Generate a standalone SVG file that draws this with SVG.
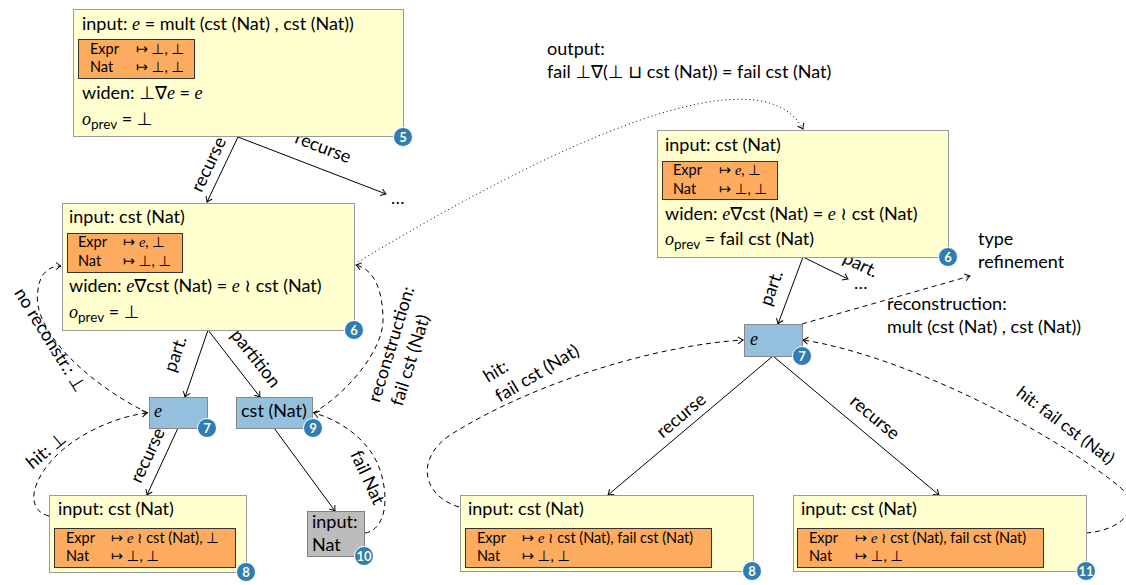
<svg xmlns="http://www.w3.org/2000/svg" width="1126" height="585" viewBox="0 0 1126 585">
<style>
.t{font-family:Lato,"DejaVu Sans",sans-serif;font-size:18px;fill:#000}
.s{font-size:14.5px}
.m{font-family:"Liberation Serif",serif;font-style:italic}
.sub{font-size:13.5px}
.box{fill:#ffffd0;stroke:#9a9a9a;stroke-width:1}
.tab{fill:#fdab5e;stroke:#333;stroke-width:1}
.blue{fill:#95c0dd;stroke:#888;stroke-width:1}
.gray{fill:#bcbcbc;stroke:#808080;stroke-width:1}
.badge{fill:#2e7cb8;stroke:#fff;stroke-width:1}
.bn{font-family:Lato,"DejaVu Sans",sans-serif;font-weight:bold;font-size:13px;fill:#fffbd0;text-anchor:middle}
.e{fill:none;stroke:#000;stroke-width:1}
.d{stroke-dasharray:5 4}
.dot{stroke-dasharray:1 3}
.c{text-anchor:middle}
</style>
<defs>
<marker id="ar" markerUnits="userSpaceOnUse" markerWidth="12" markerHeight="12" viewBox="-6 -6 12 12" refX="0" refY="0" orient="auto">
<path d="M-5,-3.5 Q-1.5,-0.8 0,0 Q-1.5,0.8 -5,3.5" fill="none" stroke="#000" stroke-width="1"/>
</marker>
</defs>

<g id="connectors">
<path class="e" d="M238,137 L207,202" marker-end="url(#ar)"/>
<path class="e" d="M238,137 L386,194" marker-end="url(#ar)"/>
<path class="e" d="M208,330 L185,397" marker-end="url(#ar)"/>
<path class="e" d="M208,330 L260,397" marker-end="url(#ar)"/>
<path class="e" d="M178,428 L147,495" marker-end="url(#ar)"/>
<path class="e" d="M274,428 L335,511" marker-end="url(#ar)"/>
<path class="e d" d="M148,413 C90,385 30,330 38,290 C40,272 50,266 61,266" marker-end="url(#ar)"/>
<path class="e d" d="M49,516 C25,510 30,480 60,452 C85,430 120,416 147,413" marker-end="url(#ar)"/>
<path class="e d" d="M313,413 C345,395 385,350 383,317 C382,290 375,270 356,265" marker-end="url(#ar)"/>
<path class="e d" d="M365,533 C385,530 390,500 380,470 C370,440 340,420 314,413" marker-end="url(#ar)"/>
<path class="e dot" d="M358,262 C560,140 760,50 803,129" marker-end="url(#ar)"/>
<path class="e" d="M803,257 L778,324" marker-end="url(#ar)"/>
<path class="e" d="M803,257 L848,279" marker-end="url(#ar)"/>
<path class="e d" d="M802,324 L970,276" marker-end="url(#ar)"/>
<path class="e" d="M773,356 L608,495" marker-end="url(#ar)"/>
<path class="e" d="M773,356 L939,495" marker-end="url(#ar)"/>
<path class="e d" d="M459,507 C420,495 415,455 455,432 C540,380 660,345 743,340" marker-end="url(#ar)"/>
<path class="e d" d="M1086,533 C1125,530 1145,505 1115,483 C1040,425 900,355 803,340" marker-end="url(#ar)"/>

<text class="t c" transform="translate(214,167) rotate(-64.5)">recurse</text>
<text class="t c" transform="translate(321,153) rotate(21)">recurse</text>
<text class="t" x="391" y="204">…</text>
<text class="t c" transform="translate(181,356) rotate(-71)">part.</text>
<text class="t c" transform="translate(251,362) rotate(52)">partition</text>
<text class="t c" transform="translate(153,458) rotate(-65)">recurse</text>
<text class="t c" transform="translate(45,343) rotate(58)">no reconstr.: ⊥</text>
<text class="t c" transform="translate(50,455) rotate(-40)">hit: ⊥</text>
<text class="t c" transform="translate(397,346) rotate(-73)">reconstruction:</text>
<text class="t c" transform="translate(416,362) rotate(-73)">fail cst (Nat)</text>
<text class="t c" transform="translate(362,480) rotate(65)">fail Nat</text>

<text class="t" x="547" y="55">output:</text>
<text class="t" x="547" y="78">fail ⊥∇(⊥ ⊔ cst (Nat)) = fail cst (Nat)</text>
<text class="t c" transform="translate(777,290) rotate(-70)">part.</text>
<text class="t c" transform="translate(858,270) rotate(26)">part.</text>
<text class="t" x="854" y="289">…</text>
<text class="t" x="978" y="245">type</text>
<text class="t" x="978" y="268">refinement</text>
<text class="t" x="887" y="310">reconstruction:</text>
<text class="t" x="887" y="333">mult (cst (Nat) , cst (Nat))</text>
<text class="t c" transform="translate(685,420) rotate(-40)">recurse</text>
<text class="t c" transform="translate(871,422) rotate(40)">recurse</text>
<text class="t" transform="translate(488,383) rotate(-31)"><tspan x="0" y="0">hit:</tspan><tspan x="0" y="23">fail cst (Nat)</tspan></text>
<text class="t c" style="font-size:17px" transform="translate(1062,430) rotate(37)">hit: fail cst (Nat)</text>
</g>

<g id="n5">
<rect class="box" x="73.5" y="9.5" width="330" height="127"/>
<text class="t" x="82" y="30">input: <tspan class="m">e</tspan> = mult (cst (Nat) , cst (Nat))</text>
<rect class="tab" x="78.5" y="39.5" width="116" height="39"/>
<text class="t s" x="90" y="54">Expr</text><text class="t s" x="136" y="54">↦ ⊥, ⊥</text>
<text class="t s" x="90" y="72">Nat</text><text class="t s" x="136" y="72">↦ ⊥, ⊥</text>
<text class="t" x="82" y="99">widen: ⊥∇<tspan class="m">e</tspan> = <tspan class="m">e</tspan></text>
<text class="t" x="82" y="125"><tspan class="m">o</tspan><tspan class="sub" dy="4">prev</tspan><tspan dy="-4"> = ⊥</tspan></text>
<circle class="badge" cx="403" cy="137" r="9.5"/><text class="bn" x="403" y="141.5">5</text>
</g>

<g id="n6a">
<rect class="box" x="62.5" y="203.5" width="292" height="127"/>
<text class="t" x="69" y="223">input: cst (Nat)</text>
<rect class="tab" x="67.5" y="233.5" width="115" height="39"/>
<text class="t s" x="78" y="247">Expr</text><text class="t s" x="123" y="247">↦ <tspan class="m">e</tspan>, ⊥</text>
<text class="t s" x="78" y="266">Nat</text><text class="t s" x="123" y="266">↦ ⊥, ⊥</text>
<text class="t" x="69" y="292">widen: <tspan class="m">e</tspan>∇cst (Nat) = <tspan class="m">e</tspan> ≀ cst (Nat)</text>
<text class="t" x="69" y="318"><tspan class="m">o</tspan><tspan class="sub" dy="4">prev</tspan><tspan dy="-4"> = ⊥</tspan></text>
<circle class="badge" cx="354" cy="330" r="9.5"/><text class="bn" x="354" y="334.5">6</text>
</g>

<g id="n7a">
<rect class="blue" x="149.5" y="397.5" width="58" height="31"/>
<text class="t m" x="154" y="417">e</text>
<circle class="badge" cx="207" cy="428" r="9.5"/><text class="bn" x="207" y="432.5">7</text>
</g>

<g id="n9">
<rect class="blue" x="236.5" y="397.5" width="76" height="31"/>
<text class="t" x="241" y="417">cst (Nat)</text>
<circle class="badge" cx="313" cy="428" r="9.5"/><text class="bn" x="313" y="432.5">9</text>
</g>

<g id="n8a">
<rect class="box" x="49.5" y="495.5" width="197" height="77"/>
<text class="t" x="58" y="515">input: cst (Nat)</text>
<rect class="tab" x="54.5" y="528.5" width="181" height="39"/>
<text class="t s" x="66" y="543">Expr</text><text class="t s" x="111" y="543">↦ <tspan class="m">e</tspan> ≀ cst (Nat), ⊥</text>
<text class="t s" x="66" y="561">Nat</text><text class="t s" x="111" y="561">↦ ⊥, ⊥</text>
<circle class="badge" cx="246" cy="572" r="9.5"/><text class="bn" x="246" y="576.5">8</text>
</g>

<g id="n10">
<rect class="gray" x="307.5" y="511.5" width="57" height="45"/>
<text class="t" x="312" y="528">input:</text>
<text class="t" x="312" y="551">Nat</text>
<circle class="badge" cx="364" cy="556" r="9.5"/><text class="bn" x="364" y="560.5">10</text>
</g>

<g id="n6b">
<rect class="box" x="657.5" y="130.5" width="291" height="127"/>
<text class="t" x="665" y="151">input: cst (Nat)</text>
<rect class="tab" x="662.5" y="161.5" width="115" height="38"/>
<text class="t s" x="673" y="175">Expr</text><text class="t s" x="719" y="175">↦ <tspan class="m">e</tspan>, ⊥</text>
<text class="t s" x="673" y="194">Nat</text><text class="t s" x="719" y="194">↦ ⊥, ⊥</text>
<text class="t" x="665" y="220">widen: <tspan class="m">e</tspan>∇cst (Nat) = <tspan class="m">e</tspan> ≀ cst (Nat)</text>
<text class="t" x="665" y="245"><tspan class="m">o</tspan><tspan class="sub" dy="4">prev</tspan><tspan dy="-4"> = fail cst (Nat)</tspan></text>
<circle class="badge" cx="948" cy="257" r="9.5"/><text class="bn" x="948" y="261.5">6</text>
</g>

<g id="n7b">
<rect class="blue" x="744.5" y="324.5" width="58" height="32"/>
<text class="t m" x="750" y="345">e</text>
<circle class="badge" cx="802" cy="356" r="9.5"/><text class="bn" x="802" y="360.5">7</text>
</g>

<g id="n8b">
<rect class="box" x="460.5" y="495.5" width="293" height="76"/>
<text class="t" x="468" y="515">input: cst (Nat)</text>
<rect class="tab" x="465.5" y="528.5" width="246" height="39"/>
<text class="t s" x="477" y="543">Expr</text><text class="t s" x="522" y="543">↦ <tspan class="m">e</tspan> ≀ cst (Nat), fail cst (Nat)</text>
<text class="t s" x="477" y="561">Nat</text><text class="t s" x="522" y="561">↦ ⊥, ⊥</text>
<circle class="badge" cx="752" cy="571" r="9.5"/><text class="bn" x="752" y="575.5">8</text>
</g>

<g id="n11">
<rect class="box" x="793.5" y="495.5" width="293" height="76"/>
<text class="t" x="801" y="515">input: cst (Nat)</text>
<rect class="tab" x="797.5" y="528.5" width="246" height="39"/>
<text class="t s" x="809" y="543">Expr</text><text class="t s" x="855" y="543">↦ <tspan class="m">e</tspan> ≀ cst (Nat), fail cst (Nat)</text>
<text class="t s" x="809" y="561">Nat</text><text class="t s" x="855" y="561">↦ ⊥, ⊥</text>
<circle class="badge" cx="1086" cy="571" r="9.5"/><text class="bn" x="1086" y="575.5">11</text>
</g>
</svg>
